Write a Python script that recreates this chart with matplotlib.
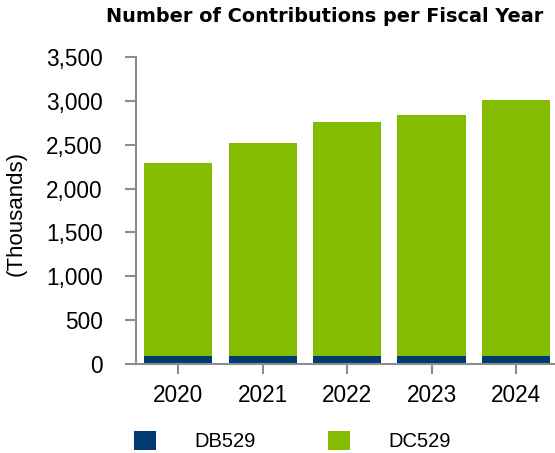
import matplotlib
matplotlib.use("Agg")
import matplotlib.pyplot as plt
import numpy as np

years = ["2020", "2021", "2022", "2023", "2024"]
db529 = [95, 95, 95, 95, 95]
dc529_total = [2290, 2515, 2762, 2835, 3013]
dc529 = [t - d for t, d in zip(dc529_total, db529)]
series_labels = ["DB529", "DC529"]
title = "Number of Contributions per Fiscal Year"
ylabel = "(Thousands)"

plt.rcParams['font.family'] = ['Liberation Sans', 'DejaVu Sans']

W, H = 555, 453
fig = plt.figure(figsize=(W / 100, H / 100), dpi=100)
ax = fig.add_axes([136 / W, (H - 364) / H, (W - 136) / W, (364 - 57) / H])

blue = "#003a70"
green = "#84bd00"
grey = "#8c8c8c"

x = np.arange(len(years))
b1 = ax.bar(x, db529, width=0.81, color=blue, label=series_labels[0])
b2 = ax.bar(x, dc529, bottom=db529, width=0.81, color=green, label=series_labels[1])

ax.set_xlim(-0.5, 4.46)
ax.set_ylim(0, 3500)
ax.set_yticks(np.arange(0, 3501, 500))
ax.set_yticklabels([f"{v:,}" for v in range(0, 3501, 500)])
ax.set_xticks(x)
ax.set_xticklabels(years)

for s in ["top", "right"]:
    ax.spines[s].set_visible(False)
for s in ["left", "bottom"]:
    ax.spines[s].set_color(grey)
    ax.spines[s].set_linewidth(1.5)

ax.tick_params(axis='y', length=8, width=1.5, color=grey, pad=16, labelsize=16.3, labelcolor="#000000")
ax.tick_params(axis='x', length=7.5, width=1.5, color=grey, pad=7, labelsize=16.3, labelcolor="#000000")

ax.set_ylabel(ylabel, fontsize=16, va='center')
ax.yaxis.set_label_coords(16 / W, (H - 213) / H, transform=fig.transFigure)

fig.text(324.5 / W, (H - 22) / H, title, fontsize=13.9, fontweight='bold',
         family=['DejaVu Sans'], ha='center', va='baseline')

leg = fig.legend(handles=[b1, b2], labels=series_labels, loc='center left',
                 bbox_to_anchor=(134 / W, (H - 441) / H), ncol=2, frameon=False,
                 fontsize=14.5, handlelength=1.1, handleheight=1.1,
                 handletextpad=1.9, columnspacing=3.6, borderpad=0, borderaxespad=0)

fig.savefig("out.png", dpi=100)
